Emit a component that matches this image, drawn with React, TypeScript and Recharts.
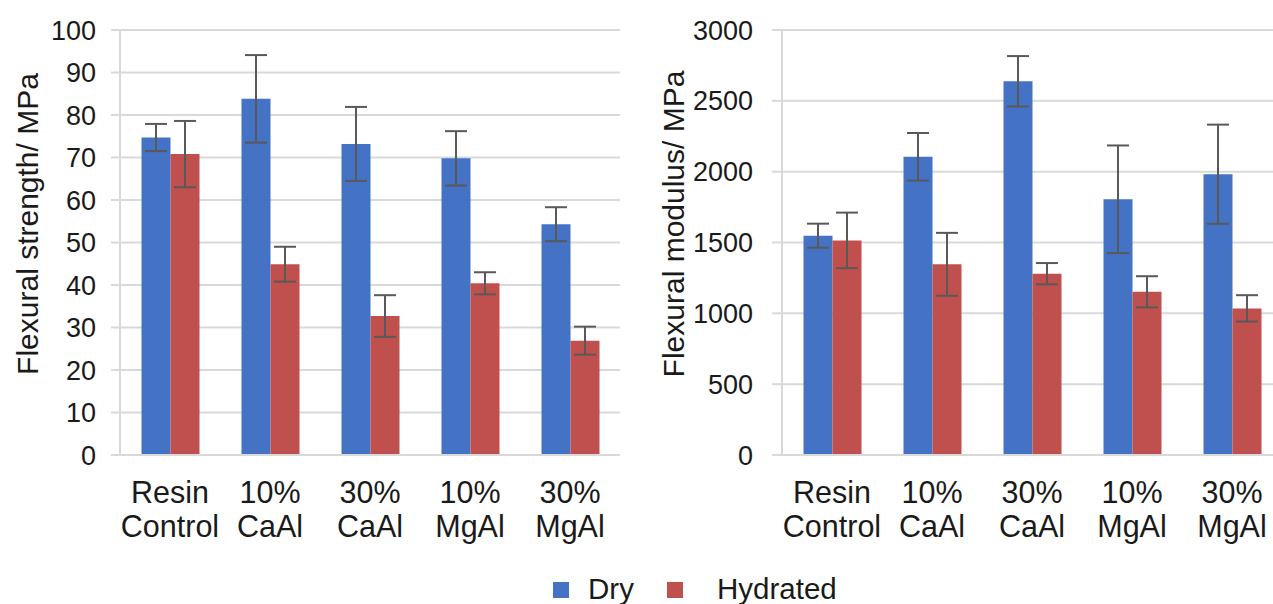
import React from "react";
import {
  BarChart,
  Bar,
  XAxis,
  YAxis,
  CartesianGrid,
  ErrorBar,
  Label,
} from "recharts";

const categories = [
  "Resin Control",
  "10% CaAl",
  "30% CaAl",
  "10% MgAl",
  "30% MgAl",
];

// Flexural strength (MPa)
const strengthDry = [74.7, 83.8, 73.2, 69.8, 54.3];
const strengthDryErr = [3.2, 10.3, 8.7, 6.4, 4.0];
const strengthHydrated = [70.8, 44.9, 32.7, 40.4, 26.9];
const strengthHydratedErr = [7.8, 4.1, 4.9, 2.6, 3.3];
const strengthTicks = [0, 10, 20, 30, 40, 50, 60, 70, 80, 90, 100];

// Flexural modulus (MPa)
const modulusDry = [1548, 2105, 2638, 1805, 1982];
const modulusDryErr = [85, 168, 178, 380, 350];
const modulusHydrated = [1515, 1346, 1280, 1152, 1035];
const modulusHydratedErr = [196, 222, 75, 110, 93];
const modulusTicks = [0, 500, 1000, 1500, 2000, 2500, 3000];

const series = [
  { name: "Dry", color: "#4472C4" },
  { name: "Hydrated", color: "#C0504D" },
];

const FONT = "'Liberation Sans', Arial, sans-serif";
const TEXT = "#1a1a1a";
const GRID = "#d9d9d9";

const buildRows = (dry, dryErr, hyd, hydErr) =>
  categories.map((name, i) => ({
    name,
    dry: dry[i],
    dryErr: dryErr[i],
    hydrated: hyd[i],
    hydratedErr: hydErr[i],
  }));

const strengthRows = buildRows(
  strengthDry,
  strengthDryErr,
  strengthHydrated,
  strengthHydratedErr
);
const modulusRows = buildRows(
  modulusDry,
  modulusDryErr,
  modulusHydrated,
  modulusHydratedErr
);

const CategoryTick = ({ x, y, payload }) => {
  const words = String(payload.value).split(" ");
  return (
    <text
      x={x}
      y={y}
      textAnchor="middle"
      fontFamily={FONT}
      fontSize={30.5}
      fill={TEXT}
    >
      {words.map((w, i) => (
        <tspan key={i} x={x} y={y + 48 + i * 34}>
          {w}
        </tspan>
      ))}
    </text>
  );
};

const AxisTitle = ({ text, x, y }) => (
  <text
    x={x}
    y={y}
    transform={`rotate(-90, ${x}, ${y})`}
    textAnchor="middle"
    dominantBaseline="central"
    fontFamily={FONT}
    fontSize={30}
    fill={TEXT}
  >
    {text}
  </text>
);

const Panel = ({ rows, ticks, max, title, titleX, yWidth, tickMargin, tickSize, right }) => (
  <BarChart
    width={yWidth + 500 + right}
    height={560}
    data={rows}
    margin={{ top: 30, right, left: 0, bottom: 0 }}
    barCategoryGap="21.5%"
    barGap={0}
  >
    <CartesianGrid vertical={false} stroke={GRID} strokeWidth={2} />
    <XAxis
      dataKey="name"
      height={105}
      axisLine={{ stroke: GRID, strokeWidth: 2 }}
      tickLine={false}
      tickSize={0}
      tickMargin={0}
      interval={0}
      tick={<CategoryTick />}
    />
    <YAxis
      width={yWidth}
      domain={[0, max]}
      ticks={ticks}
      interval={0}
      axisLine={{ stroke: GRID, strokeWidth: 2 }}
      tickLine={{ stroke: GRID, strokeWidth: 2 }}
      tickSize={tickSize}
      tickMargin={tickMargin}
      tick={{ fontFamily: FONT, fontSize: 27, fill: TEXT }}
    >
      <Label
        content={() => <AxisTitle text={title} x={titleX} y={224} />}
      />
    </YAxis>
    <Bar dataKey="dry" name="Dry" fill={series[0].color} isAnimationActive={false}>
      <ErrorBar
        dataKey="dryErr"
        direction="y"
        width={11}
        stroke="#595959"
        strokeWidth={2}
      />
    </Bar>
    <Bar
      dataKey="hydrated"
      name="Hydrated"
      fill={series[1].color}
      isAnimationActive={false}
    >
      <ErrorBar
        dataKey="hydratedErr"
        direction="y"
        width={11}
        stroke="#595959"
        strokeWidth={2}
      />
    </Bar>
  </BarChart>
);

const Legend = () => {
  const items = [
    { ...series[0], box: 553, text: 588 },
    { ...series[1], box: 667, text: 717 },
  ];
  return (
    <svg
      width={1273}
      height={604}
      style={{ position: "absolute", left: 0, top: 0, pointerEvents: "none" }}
    >
      {items.map((it) => (
        <g key={it.name}>
          <rect x={it.box} y={582} width={16} height={16} fill={it.color} />
          <text
            x={it.text}
            y={599}
            fontFamily={FONT}
            fontSize={29.5}
            fill={TEXT}
          >
            {it.name}
          </text>
        </g>
      ))}
    </svg>
  );
};

export default function App() {
  return (
    <div
      style={{
        position: "absolute",
        left: 0,
        top: 0,
        width: 1273,
        height: 604,
        overflow: "hidden",
        background: "#fff",
      }}
    >
      <div style={{ position: "absolute", left: 0, top: 0 }}>
        <Panel
          rows={strengthRows}
          ticks={strengthTicks}
          max={100}
          title="Flexural strength/ MPa"
          titleX={27}
          yWidth={120}
          tickSize={9}
          tickMargin={15}
          right={20}
        />
      </div>
      <div style={{ position: "absolute", left: 640, top: 0 }}>
        <Panel
          rows={modulusRows}
          ticks={modulusTicks}
          max={3000}
          title="Flexural modulus/ MPa"
          titleX={33}
          yWidth={142}
          tickSize={10}
          tickMargin={19}
          right={20}
        />
      </div>
      <Legend />
    </div>
  );
}
